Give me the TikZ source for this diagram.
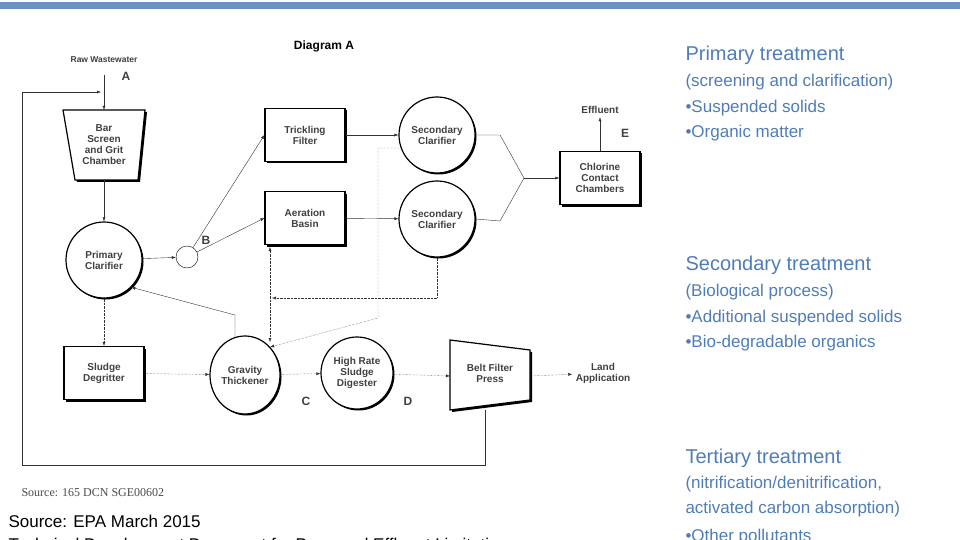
\documentclass[tikz,border=0pt]{standalone}
\usepackage{fontspec}
\setmainfont{Liberation Sans}
\usetikzlibrary{arrows.meta,shadows,shapes.geometric}
\definecolor{tb}{HTML}{4F7DB8}
\begin{document}
\begin{tikzpicture}[x=1pt,y=-1pt,
  lbl/.style={font=\fontsize{10}{11}\selectfont\bfseries,align=center,text=black!75},
  box/.style={draw,line width=1.2pt,fill=white,minimum width=80pt,minimum height=53pt,lbl,drop shadow={shadow xshift=2pt,shadow yshift=-2pt,fill=black,opacity=1}},
  circ/.style={draw,line width=1.2pt,circle,fill=white,minimum size=76pt,inner sep=0pt,lbl,drop shadow={shadow xshift=1.5pt,shadow yshift=-1.5pt,fill=black,opacity=1}},
  arr/.style={-{Latex[length=4pt,width=3pt]},black!80},
  dot/.style={arr,densely dotted},
  rt/.style={text=tb,anchor=west,font=\fontsize{17}{18}\selectfont},
  rh/.style={text=tb,anchor=west,font=\fontsize{20}{22}\selectfont}]
\useasboundingbox (0,0) rectangle (960,540);
\fill[white] (0,0) rectangle (960,540);
\fill[tb!85] (0,2) rectangle (960,9);
\node[font=\fontsize{12}{13}\selectfont\bfseries] (title) at (324,46) {Diagram A};
\node[lbl,font=\fontsize{8.5}{9}\selectfont\bfseries] (raw) at (104,60) {Raw Wastewater};
\node[lbl,font=\fontsize{12}{12}\selectfont\bfseries] (la) at (126,76) {A};
% bar screen
\draw[line width=1.2pt,fill=white,drop shadow={shadow xshift=2pt,shadow yshift=-2pt,fill=black,opacity=1}] (63,110) -- (145,110) -- (138,180) -- (75,180) -- cycle;
\node[lbl] (bar) at (104,145) {Bar\\Screen\\and Grit\\Chamber};
\coordinate (bartop) at (104,110);
\coordinate (rawtop) at (104,75);
\draw[arr] (rawtop) -- (bartop);
\node[circ] (pc) at (104,260) {Primary\\Clarifier};
\draw[arr] (104,180) -- (pc);
\node[draw,circle,minimum size=22pt,inner sep=0pt] (b) at (187,257) {};
\node[lbl,font=\fontsize{12}{12}\selectfont\bfseries] (lb) at (206,240) {B};
\draw[arr] (pc) -- (b);
\node[box] (tf) at (305,135) {Trickling\\Filter};
\node[box] (ab) at (305,218) {Aeration\\Basin};
\draw[arr] (b) -- (tf.west);
\draw[arr] (b) -- (ab.west);
\node[circ] (sc1) at (437,135) {Secondary\\Clarifier};
\node[circ] (sc2) at (437,219) {Secondary\\Clarifier};
\draw[arr] (tf) -- (sc1);
\draw[arr] (ab) -- (sc2);
\node[box] (cl) at (600,178) {Chlorine\\Contact\\Chambers};
\coordinate (j) at (524,178);
\draw[black!80] (sc1.east) -- (500,135) -- (j);
\draw[black!80] (sc2.east) -- (500,221) -- (j);
\draw[arr] (j) -- (cl);
\node[lbl] (eff) at (600,110) {Effluent};
\draw[arr] (cl) -- (eff);
\node[lbl,font=\fontsize{12}{12}\selectfont\bfseries] (le) at (625,133) {E};
% bottom row
\node[box] (sd) at (104,373) {Sludge\\Degritter};
\node[circ,ellipse,minimum width=70pt,minimum height=78pt] (gt) at (245,375) {Gravity\\Thickener};
\node[circ,minimum size=72pt] (hr) at (357,373) {High Rate\\Sludge\\Digester};
\draw[line width=1.2pt,fill=white,drop shadow={shadow xshift=2pt,shadow yshift=-2pt,fill=black,opacity=1}] (450,340) -- (530,350) -- (530,400) -- (450,410) -- cycle;
\node[lbl] (bf) at (490,373) {Belt Filter\\Press};
\node[lbl] (land) at (603,373) {Land\\Application};
\node[lbl,font=\fontsize{12}{12}\selectfont\bfseries] (lc) at (306,401) {C};
\node[lbl,font=\fontsize{12}{12}\selectfont\bfseries] (ld) at (408,401) {D};
\draw[dot] (pc) -- (sd);
\draw[dot] (sd) -- (gt);
\draw[dot] (gt) -- (hr);
\draw[dot] (hr) -- (450,376);
\draw[dot] (530,376) -- (land);
\draw[arr] (235,338) -- (235,315) -- (pc.south east);
\draw[dot] (400,148) -- (378,148) -- (378,318) -- (gt.north east);
\draw[dot] (sc2.south) -- (437,298) -- (272,298);
\draw[dot,{Latex[length=4pt,width=3pt]}-{Latex[length=4pt,width=3pt]}] (270,247) -- (270,342);
% return loop
\draw[arr] (485,410) -- (485,465) -- (22,465) -- (22,92) -- (101,92);
% sources
\node[anchor=west,font=\fontsize{12}{13}\selectfont,text=black!70] (s1) at (18,493) {\fontspec{Liberation Serif}Source: 165 DCN SGE00602};
\node[anchor=west,font=\fontsize{17}{18}\selectfont] (s2) at (5,521) {Source: EPA March 2015};
\node[anchor=west,font=\fontsize{17}{18}\selectfont] (s3) at (5,546) {Technical Development Document for Proposed Effluent Limitations};
% right text
\node[rh] (p1) at (682,55) {Primary treatment};
\node[rt] (p2) at (682,82) {(screening and clarification)};
\node[rt] (p3) at (682,108) {•Suspended solids};
\node[rt] (p4) at (682,133) {•Organic matter};
\node[rh] (q1) at (682,265) {Secondary treatment};
\node[rt] (q2) at (682,292) {(Biological process)};
\node[rt] (q3) at (682,318) {•Additional suspended solids};
\node[rt] (q4) at (682,343) {•Bio-degradable organics};
\node[rh] (t1) at (682,458) {Tertiary treatment};
\node[rt] (t2) at (682,484) {(nitrification/denitrification,};
\node[rt] (t3) at (682,509) {activated carbon absorption)};
\node[rt] (t4) at (682,537) {•Other pollutants};
\end{tikzpicture}
\end{document}
